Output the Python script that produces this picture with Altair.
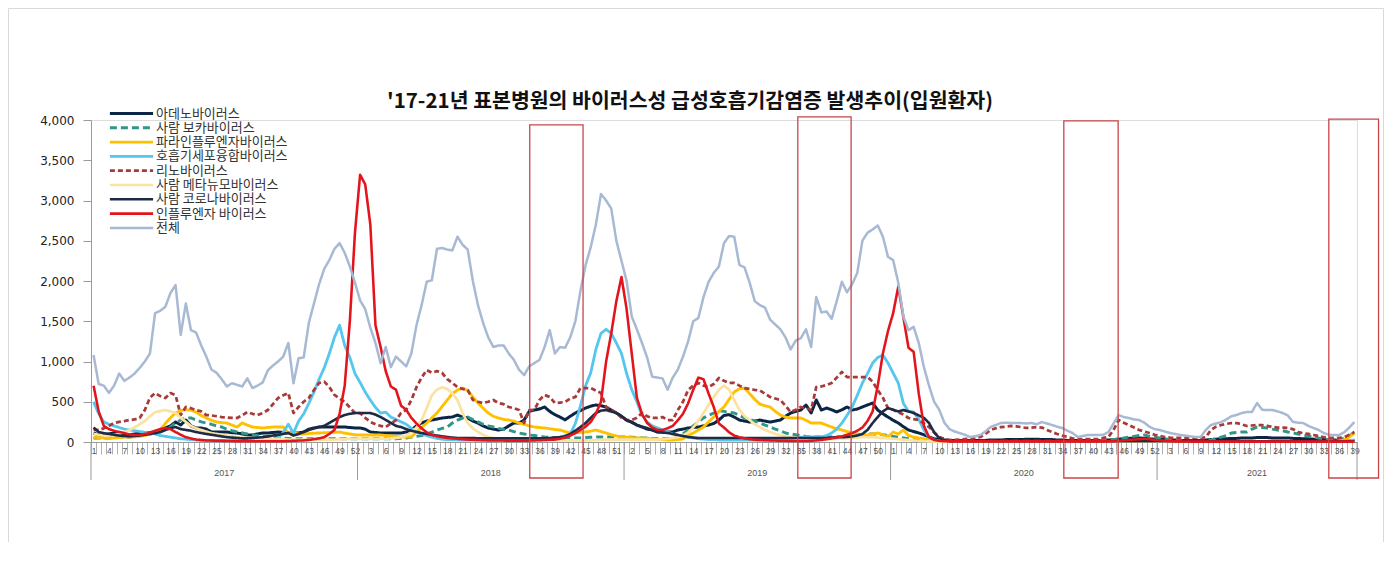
import altair as alt
import pandas as pd

# ---------------- data ----------------
TITLE = "'17-21년 표본병원의 바이러스성 급성호흡기감염증 발생추이(입원환자)"
SERIES = ["아데노바이러스", "사람 보카바이러스", "파라인플루엔자바이러스", "호흡기세포융합바이러스",
          "리노바이러스", "사람 메타뉴모바이러스", "사람 코로나바이러스", "인플루엔자 바이러스", "전체"]
COLORS = ["#0b2545", "#2f9688", "#ffc000", "#55c6ee", "#a93a3a", "#fbe2a0", "#1f2a44", "#e3141b", "#a7b9d3"]
DASHES = [[1, 0], [7, 4], [1, 0], [1, 0], [5, 3], [1, 0], [1, 0], [1, 0], [1, 0]]
WIDTHS = [3, 2.5, 4, 4, 1.8, 1.5, 1.5, 3.5, 2]

YEARS = [2017, 2018, 2019, 2020, 2021]
WEEKS_PER_YEAR = [52, 52, 52, 52, 39]

adeno = [
    [112, 87, 87, 100, 112, 100, 87, 87, 100, 110, 112, 118, 124, 140, 174, 200, 248, 211, 273, 200, 174, 174, 160, 124, 124, 124, 124, 115, 112, 100, 87, 87, 100, 112, 112, 118, 124, 118, 112, 112, 112, 124, 160, 174, 186, 186, 186, 186, 186, 186, 180, 174],
    [174, 160, 124, 118, 112, 112, 112, 112, 112, 124, 149, 200, 236, 260, 273, 285, 298, 305, 310, 335, 310, 298, 260, 236, 200, 174, 160, 149, 160, 200, 236, 236, 273, 380, 397, 410, 435, 380, 340, 310, 275, 320, 360, 390, 422, 445, 460, 450, 435, 397, 360, 320],
    [270, 248, 210, 186, 160, 149, 124, 124, 124, 124, 149, 160, 174, 180, 186, 200, 211, 230, 273, 330, 340, 310, 273, 260, 248, 260, 273, 260, 248, 260, 273, 320, 360, 380, 397, 460, 360, 522, 397, 422, 400, 373, 400, 435, 397, 410, 435, 460, 484, 397, 350, 310],
    [270, 236, 190, 149, 130, 112, 90, 62, 40, 30, 25, 20, 20, 20, 20, 20, 20, 20, 20, 25, 25, 25, 30, 30, 30, 30, 35, 35, 35, 30, 30, 30, 25, 25, 20, 20, 20, 20, 20, 20, 20, 20, 25, 30, 35, 40, 45, 50, 50, 45, 40, 35],
    [30, 30, 25, 25, 20, 20, 20, 20, 20, 25, 30, 35, 40, 40, 45, 45, 50, 50, 50, 55, 55, 55, 50, 50, 50, 50, 45, 45, 40, 40, 35, 30, 30, 25, 25, 20, 20, 20, 20],
]
boca = [
    [50, 50, 50, 50, 55, 60, 60, 62, 70, 80, 87, 100, 112, 124, 149, 186, 236, 273, 298, 300, 273, 250, 236, 220, 200, 186, 160, 140, 124, 112, 100, 90, 80, 70, 62, 60, 55, 50, 45, 40, 40, 40, 40, 40, 40, 40, 40, 40, 40, 40, 40, 40],
    [40, 40, 40, 40, 40, 40, 40, 40, 45, 50, 60, 70, 80, 100, 124, 149, 170, 186, 236, 273, 298, 310, 280, 250, 220, 200, 186, 170, 155, 149, 130, 112, 100, 87, 80, 70, 62, 60, 55, 50, 50, 50, 50, 50, 55, 60, 62, 62, 62, 62, 62, 62],
    [62, 60, 55, 50, 50, 45, 40, 40, 40, 40, 60, 100, 150, 200, 250, 300, 330, 360, 390, 380, 370, 360, 330, 300, 280, 260, 236, 210, 186, 160, 140, 112, 100, 90, 80, 70, 62, 62, 62, 62, 62, 62, 62, 62, 70, 80, 90, 100, 100, 100, 90, 80],
    [70, 60, 50, 40, 30, 20, 15, 10, 10, 10, 10, 10, 10, 10, 10, 10, 10, 10, 10, 10, 10, 10, 10, 10, 10, 10, 10, 10, 10, 10, 10, 10, 10, 10, 10, 10, 10, 10, 10, 10, 15, 20, 25, 30, 40, 50, 62, 70, 80, 87, 70, 60],
    [50, 40, 30, 20, 15, 10, 10, 10, 10, 15, 25, 40, 60, 80, 112, 118, 124, 124, 160, 186, 180, 174, 160, 149, 140, 124, 112, 100, 87, 75, 62, 50, 40, 30, 25, 30, 50, 80, 112],
]
para = [
    [60, 55, 50, 50, 50, 55, 60, 60, 65, 70, 80, 100, 120, 150, 230, 300, 360, 390, 400, 397, 370, 330, 298, 270, 248, 240, 236, 210, 186, 236, 210, 186, 180, 174, 180, 186, 186, 186, 112, 112, 100, 100, 105, 110, 112, 115, 118, 120, 124, 110, 100, 90],
    [87, 87, 87, 87, 87, 80, 75, 70, 62, 62, 62, 124, 180, 236, 300, 360, 440, 522, 600, 646, 670, 640, 560, 484, 420, 360, 320, 298, 280, 273, 260, 236, 220, 200, 186, 180, 174, 165, 155, 149, 130, 112, 115, 120, 124, 135, 149, 130, 112, 90, 75, 62],
    [60, 55, 50, 50, 45, 40, 35, 30, 25, 25, 30, 40, 80, 112, 150, 186, 250, 310, 380, 435, 530, 621, 660, 670, 600, 530, 470, 450, 435, 380, 335, 310, 298, 298, 298, 270, 236, 236, 236, 210, 186, 165, 149, 130, 112, 100, 87, 87, 100, 112, 90, 62],
    [124, 100, 149, 80, 62, 50, 40, 30, 20, 15, 10, 8] + [5] * 40,
    [5] * 36 + [30, 60, 112],
]
rsv = [
    [500, 350, 250, 220, 200, 180, 160, 150, 140, 130, 120, 110, 100, 80, 70, 60, 50, 40, 35, 30, 25, 20, 20, 20, 20, 20, 18, 18, 18, 18, 18, 18, 20, 20, 25, 30, 50, 120, 220, 110, 260, 350, 480, 620, 780, 920, 1100, 1300, 1450, 1200, 1050, 850],
    [740, 620, 520, 430, 360, 370, 310, 280, 250, 220, 170, 130, 100, 80, 60, 45, 35, 30, 28, 25, 25, 25, 25, 25, 25, 25, 25, 25, 25, 25, 25, 25, 28, 30, 30, 30, 35, 40, 50, 60, 80, 100, 230, 450, 700, 860, 1150, 1350, 1400, 1350, 1230, 1100],
    [850, 650, 500, 330, 250, 200, 175, 150, 124, 100, 87, 70, 60, 50, 40, 35, 30, 30, 25, 25, 25, 25, 25, 25, 25, 25, 25, 25, 25, 25, 30, 30, 40, 50, 60, 62, 62, 62, 62, 80, 112, 160, 236, 330, 435, 580, 733, 850, 981, 1050, 1080, 981],
    [857, 733, 480, 380, 373, 280, 150, 60, 25, 15] + [8] * 42,
    [5] * 33 + [8, 10, 12, 15, 20, 25],
]
rhino = [
    [150, 150, 170, 200, 236, 250, 260, 273, 280, 298, 397, 550, 608, 570, 546, 608, 580, 335, 435, 420, 397, 380, 335, 330, 320, 310, 305, 300, 298, 330, 373, 350, 335, 360, 397, 470, 546, 580, 608, 360, 435, 500, 546, 646, 733, 750, 683, 584, 540, 497, 430, 360],
    [360, 300, 250, 220, 200, 186, 230, 273, 360, 400, 520, 680, 800, 894, 860, 880, 860, 780, 733, 683, 660, 646, 522, 500, 484, 500, 522, 484, 470, 435, 420, 397, 236, 397, 400, 522, 584, 560, 484, 490, 497, 540, 559, 670, 670, 670, 640, 608, 435, 400, 360, 300],
    [273, 273, 300, 360, 320, 298, 300, 310, 273, 273, 397, 500, 646, 700, 733, 700, 683, 720, 795, 760, 733, 733, 700, 670, 660, 646, 640, 600, 559, 540, 522, 450, 373, 400, 435, 420, 397, 683, 690, 708, 733, 800, 870, 807, 807, 807, 807, 807, 750, 646, 550, 420],
    [400, 370, 340, 298, 285, 273, 230, 186, 120, 62, 40, 25, 25, 30, 35, 40, 50, 62, 100, 149, 170, 186, 190, 199, 195, 185, 174, 180, 186, 180, 150, 124, 100, 80, 62, 45, 37, 37, 37, 37, 40, 50, 62, 149, 273, 240, 211, 180, 149, 130, 112, 90],
    [75, 62, 55, 50, 50, 50, 50, 50, 50, 60, 149, 190, 211, 225, 236, 236, 220, 199, 205, 211, 211, 200, 186, 180, 180, 174, 160, 124, 110, 100, 87, 75, 60, 50, 50, 50, 60, 90, 124],
]
meta = [
    [100, 90, 80, 80, 90, 100, 120, 150, 180, 220, 260, 320, 370, 385, 397, 380, 360, 300, 250, 200, 170, 150, 130, 110, 100, 90, 80, 70, 60, 55, 50, 45, 40, 40, 35, 35, 35, 35, 30, 30, 30, 30, 30, 30, 30, 30, 30, 30, 35, 35, 40, 40],
    [40, 40, 40, 40, 40, 40, 45, 50, 60, 80, 120, 180, 273, 420, 580, 650, 680, 660, 600, 522, 360, 236, 170, 124, 90, 62, 50, 40, 35, 30, 25, 25, 20, 20, 20, 20, 20, 20, 20, 20, 20, 20, 20, 20, 20, 20, 25, 25, 30, 30, 30, 30],
    [30, 30, 30, 30, 30, 30, 30, 35, 40, 50, 60, 80, 120, 180, 260, 360, 460, 560, 650, 700, 650, 520, 400, 320, 273, 220, 186, 150, 124, 100, 87, 70, 60, 50, 45, 40, 40, 35, 35, 35, 35, 40, 40, 45, 50, 55, 60, 60, 60, 55, 50, 45],
    [40, 35, 30, 25, 20, 15, 10, 8] + [5] * 44,
    [5] * 39,
]
corona = [
    [180, 124, 110, 100, 90, 80, 75, 70, 75, 80, 90, 100, 110, 124, 150, 170, 186, 160, 150, 140, 124, 112, 100, 90, 80, 70, 60, 55, 50, 45, 45, 50, 55, 60, 70, 80, 90, 100, 112, 80, 100, 124, 150, 170, 186, 200, 236, 273, 310, 335, 350, 360],
    [360, 360, 360, 340, 310, 273, 236, 200, 186, 160, 140, 124, 112, 100, 90, 80, 70, 62, 55, 50, 50, 50, 50, 45, 45, 45, 45, 45, 45, 45, 45, 45, 45, 45, 45, 45, 45, 50, 55, 60, 70, 100, 140, 186, 236, 300, 360, 390, 397, 380, 360, 320],
    [273, 240, 211, 190, 174, 150, 124, 118, 112, 100, 87, 75, 62, 55, 50, 50, 50, 50, 50, 50, 50, 50, 50, 50, 50, 50, 50, 50, 50, 50, 50, 50, 50, 50, 50, 50, 50, 50, 50, 50, 55, 60, 60, 62, 70, 80, 100, 150, 236, 310, 380, 422],
    [400, 380, 397, 380, 360, 330, 300, 236, 120, 50, 20] + [10] * 41,
    [10] * 39,
]
flu = [
    [700, 380, 200, 160, 140, 125, 110, 95, 87, 87, 100, 112, 140, 160, 175, 160, 124, 90, 60, 45, 30, 25, 20, 18, 15, 15, 12, 12, 10, 10, 10, 10, 10, 10, 10, 10, 10, 10, 12, 15, 18, 20, 25, 35, 45, 60, 100, 150, 350, 700, 1500, 2600],
    [3320, 3200, 2700, 1450, 1180, 880, 690, 650, 450, 400, 300, 230, 170, 120, 90, 70, 60, 50, 45, 40, 35, 30, 28, 25, 22, 20, 20, 18, 18, 15, 15, 15, 15, 18, 20, 22, 25, 28, 30, 40, 55, 80, 110, 150, 190, 250, 350, 500, 1000, 1350, 1750, 2050],
    [1650, 1100, 550, 350, 236, 180, 150, 150, 170, 200, 270, 350, 480, 650, 800, 780, 600, 435, 230, 180, 120, 80, 60, 45, 35, 28, 25, 22, 20, 18, 15, 15, 12, 12, 12, 12, 15, 20, 25, 35, 45, 55, 70, 90, 110, 140, 180, 260, 380, 700, 1100, 1380],
    [1600, 1930, 1550, 1170, 1120, 600, 200, 60, 25, 15, 10] + [8] * 32 + [10, 15, 20, 25, 30, 35, 40, 35, 25],
    [20, 15, 10, 8, 8, 6] + [5] * 33,
]
total = [
    [1080, 720, 700, 610, 700, 850, 760, 800, 850, 920, 1000, 1100, 1600, 1630, 1680, 1850, 1950, 1330, 1720, 1390, 1360, 1200, 1060, 900, 860, 780, 690, 730, 710, 690, 790, 670, 700, 740, 890, 950, 1000, 1060, 1230, 730, 1040, 1050, 1480, 1720, 1960, 2150, 2260, 2400, 2470, 2350, 2180, 1980],
    [1760, 1650, 1420, 1230, 980, 1180, 930, 1060, 1000, 940, 1100, 1450, 1700, 1990, 2010, 2400, 2410, 2390, 2380, 2550, 2450, 2390, 2000, 1700, 1480, 1300, 1180, 1200, 1200, 1100, 1020, 900, 830, 940, 980, 1020, 1180, 1390, 1100, 1180, 1170, 1300, 1500, 1880, 2200, 2420, 2700, 3080, 3000, 2900, 2500, 2250],
    [2000, 1560, 1400, 1230, 1050, 810, 800, 790, 650, 800, 900, 1060, 1250, 1500, 1540, 1800, 1990, 2100, 2180, 2470, 2560, 2550, 2200, 2170, 1980, 1750, 1700, 1670, 1520, 1460, 1400, 1300, 1150, 1260, 1290, 1400, 1180, 1800, 1610, 1620, 1530, 1750, 1990, 1860, 1960, 2100, 2500, 2600, 2640, 2690, 2550, 2300],
    [2260, 1980, 1560, 1390, 1430, 1230, 930, 700, 500, 400, 240, 160, 130, 110, 90, 62, 70, 87, 130, 186, 210, 236, 240, 236, 236, 236, 230, 236, 220, 248, 230, 211, 190, 174, 140, 112, 62, 75, 87, 87, 87, 90, 124, 230, 335, 310, 298, 280, 273, 240, 190, 160],
    [149, 130, 112, 100, 87, 80, 70, 62, 62, 150, 211, 230, 248, 280, 320, 335, 360, 373, 373, 484, 400, 397, 397, 380, 360, 330, 250, 240, 236, 200, 174, 150, 112, 90, 87, 87, 120, 180, 248],
]
SERIES_DATA = [adeno, boca, para, rsv, rhino, meta, corona, flu, total]

# annotation boxes (week-index ranges) and y tick values
BOX_START = [85.1, 137.4, 189.3, 241.0]
BOX_END = [95.5, 147.8, 199.9, 250.7]
BOX_TOP = [3940, 4040, 3990, 4010]
Y_TICKS = [0, 500, 1000, 1500, 2000, 2500, 3000, 3500, 4000]

# ---------------- build tables ----------------
rows = []
for name, yearly in zip(SERIES, SERIES_DATA):
    idx = 0
    for y, n, vals in zip(YEARS, WEEKS_PER_YEAR, yearly):
        assert len(vals) == n, (name, y, len(vals))
        for w, v in enumerate(vals):
            rows.append({"idx": idx, "series": name, "value": v})
            idx += 1
df = pd.DataFrame(rows)

n_total = sum(WEEKS_PER_YEAR)
starts = [sum(WEEKS_PER_YEAR[:k]) for k in range(len(YEARS))]
year_df = pd.DataFrame({"year": [str(y) for y in YEARS],
                        "c": [s + (n - 1) / 2 for s, n in zip(starts, WEEKS_PER_YEAR)]})
sep_df = pd.DataFrame({"b": [s - 0.5 for s in starts] + [n_total - 0.5]})
box_df = pd.DataFrame({"x0": BOX_START, "x1": BOX_END, "top": BOX_TOP})

W, H = 1266, 322
xscale = alt.Scale(domain=[-0.5, n_total - 0.5], nice=False, zero=False)
yscale = alt.Scale(domain=[0, 4000], nice=False)

label_expr = ("((datum.value + 0.5) % 3 == 0) ? '' + ((datum.value + 0.5) % 52 + 1) : ''")

X_AXIS = alt.Axis(values=[i - 0.5 for i in range(n_total + 1)], labelExpr=label_expr,
                  title=None, grid=False, tickSize=12, tickColor="#b0b0b0",
                  domainColor="#9a9a9a", labelFont="Liberation Sans", labelFontSize=8.5,
                  labelColor="#555555", labelOffset=2.56, labelPadding=-7.5,
                  labelBaseline="top", labelAlign="center", labelOverlap=False,
                  labelFlush=False, labelBound=False)
Y_AXIS = alt.Axis(values=Y_TICKS, format=",d", title=None, grid=False, tickSize=8,
                  labelPadding=9, tickColor="#9a9a9a", domainColor="#9a9a9a",
                  labelFont="DejaVu Sans", labelFontSize=12, labelColor="#222222",
                  labelOverlap=False)

lines = alt.Chart(df).mark_line(strokeJoin="round", strokeCap="butt").encode(
    x=alt.X("idx:Q", scale=xscale, axis=X_AXIS),
    y=alt.Y("value:Q", scale=yscale, axis=Y_AXIS),
    color=alt.Color("series:N", scale=alt.Scale(domain=SERIES, range=COLORS),
                    legend=alt.Legend(title=None, orient="none", legendX=34, legendY=-13,
                                      symbolType="M-5.4,0H5.4", symbolSize=64,
                                      labelFont="Noto Sans CJK KR", labelFontSize=13,
                                      labelColor="#333333", labelOffset=18, rowPadding=0.3,
                                      labelLimit=400)),
    strokeDash=alt.StrokeDash("series:N", scale=alt.Scale(domain=SERIES, range=DASHES), legend=None),
    strokeWidth=alt.StrokeWidth("series:N", scale=alt.Scale(domain=SERIES, range=WIDTHS), legend=None),
    order=alt.Order("idx:Q"),
)

seps = alt.Chart(sep_df).mark_rule(color="#9a9a9a", strokeWidth=1).encode(
    x=alt.X("b:Q", scale=xscale, axis=X_AXIS), y=alt.value(H), y2=alt.value(360),
)

boxes = alt.Chart(box_df).mark_rect(fill=None, stroke="#c8454a", strokeWidth=1.3).encode(
    x=alt.X("x0:Q", scale=xscale, axis=X_AXIS), x2="x1:Q",
    y=alt.Y("top:Q", scale=yscale, axis=Y_AXIS), y2=alt.value(358),
)

years = alt.Chart(year_df).mark_text(font="Liberation Sans", fontSize=9, color="#555555",
                                     baseline="middle").encode(
    x=alt.X("c:Q", scale=xscale, axis=X_AXIS), y=alt.value(353), text="year:N",
)

one = pd.DataFrame({"t": [TITLE]})
frame = alt.Chart(one).mark_rect(fill=None, stroke="#d9d9d9", strokeWidth=1).encode(
    x=alt.value(-82.5), x2=alt.value(1292.5), y=alt.value(-111.5), y2=alt.value(460),
)
title = alt.Chart(one).mark_text(font="Noto Sans CJK KR", fontSize=20.5, fontWeight="bold",
                                 color="#111111", align="center", baseline="middle").encode(
    x=alt.value(599), y=alt.value(-18), text="t:N",
)

chart = alt.layer(frame, lines, seps, boxes, years, title).properties(
    width=W, height=H,
    autosize=alt.AutoSizeParams(type="none"),
    padding={"left": 83, "top": 112, "right": 27, "bottom": 100},
).configure_view(stroke=None).configure(background="white")

chart.save("out.html", embed_options={"renderer": "svg", "actions": False})
